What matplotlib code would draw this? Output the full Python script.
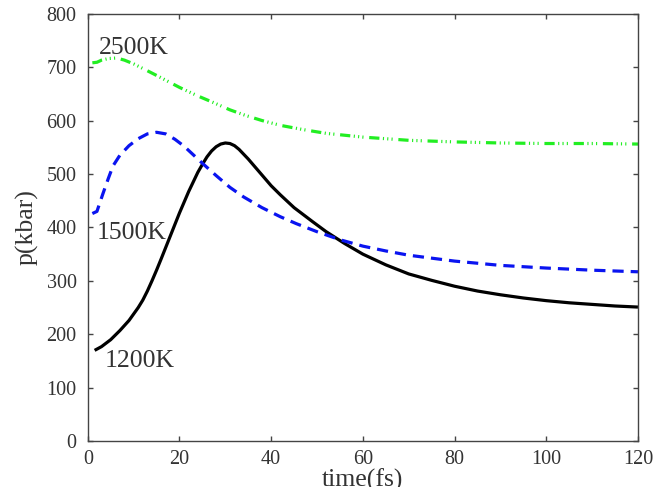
import matplotlib
matplotlib.use('Agg')
import matplotlib.pyplot as plt

# pressure vs time for three temperatures
t_1200 = [1.5, 3, 5, 7, 9, 11, 12, 13, 14, 15, 16, 18, 20, 22, 24, 25, 26, 27, 28,
          29, 30, 31, 32, 33, 35, 37, 40, 42, 45, 49, 52, 56, 60, 65, 70, 75, 80,
          85, 90, 95, 100, 105, 110, 115, 120]
p_1200 = [170, 177, 190, 207, 226, 250, 264, 281, 300, 320, 341, 384, 427, 467, 503,
          518, 532, 543, 551, 556, 558, 557, 553, 546, 528, 508, 478, 461, 437, 411,
          392, 370, 350, 330, 313, 301, 290, 281, 274, 268, 263, 259, 256, 253, 251]

t_1500 = [1, 2, 3.3, 4.5, 5.5, 7, 9, 11, 13, 15, 17, 19, 21, 23, 25, 28, 31, 34, 38,
          42, 45.5, 50, 55, 60, 65, 70, 80, 90, 100, 110, 120]
p_1500 = [426, 430, 463, 492, 515, 535, 553, 566, 575, 578, 575, 565, 552, 536, 520,
          497, 475, 457, 437, 420, 407, 392, 377, 365, 356, 348, 337, 329, 324, 320, 317]

t_2500 = [1, 2, 3, 4.5, 6.3, 8, 10, 12.8, 16, 20, 24, 27.3, 31, 34.6, 38, 42, 47, 52,
          60, 70, 80, 90, 100, 110, 120]
p_2500 = [708, 709, 713, 716, 717, 713, 706, 694, 680, 662, 646, 634, 620, 609, 600,
          591, 583, 576, 569, 563, 560, 558, 557, 557, 556]

labels = ['1200K', '1500K', '2500K']
label_pos = [(3.7, 151), (1.9, 390), (2.4, 735)]

plt.rcParams['font.family'] = ['Liberation Serif', 'DejaVu Serif']

fig = plt.figure(figsize=(6.55, 4.87), dpi=100)
ax = fig.add_axes([0.134, 0.094, 0.840, 0.878])

ax.plot(t_1200, p_1200, color='black', lw=2.3, solid_capstyle='butt')
ax.plot(t_1500, p_1500, color='#0a14f0', lw=2.3, linestyle=(0, (3.5, 2.2)),
        dash_capstyle='butt')
ax.plot(t_2500, p_2500, color='#22ee22', lw=2.3,
        linestyle=(0, (3.2, 1.1, 0.35, 1.0, 0.35, 1.0, 0.35, 1.8)),
        dash_capstyle='butt')

for lab, (x, y) in zip(labels, label_pos):
    ax.text(x, y, lab, fontsize=18.5, color='#333333', ha='left', va='center')

ax.set_xlim(0, 120)
ax.set_ylim(0, 800)
ax.set_xticks(range(0, 121, 20))
ax.set_yticks(range(0, 801, 100))
ax.tick_params(axis='both', direction='in', length=3.5, width=1.0,
               top=True, right=True, labelsize=14.5, labelcolor='#333333',
               color='#444444')
ax.tick_params(axis='x', pad=6)
ax.tick_params(axis='y', pad=8)
for s in ax.spines.values():
    s.set_color('#444444')
    s.set_linewidth(1.0)

ax.set_xlabel('time(fs)', fontsize=18.5, color='#333333', labelpad=0)
ax.set_ylabel('p(kbar)', fontsize=18.5, color='#333333', labelpad=6)

fig.savefig('out.png', dpi=100)
